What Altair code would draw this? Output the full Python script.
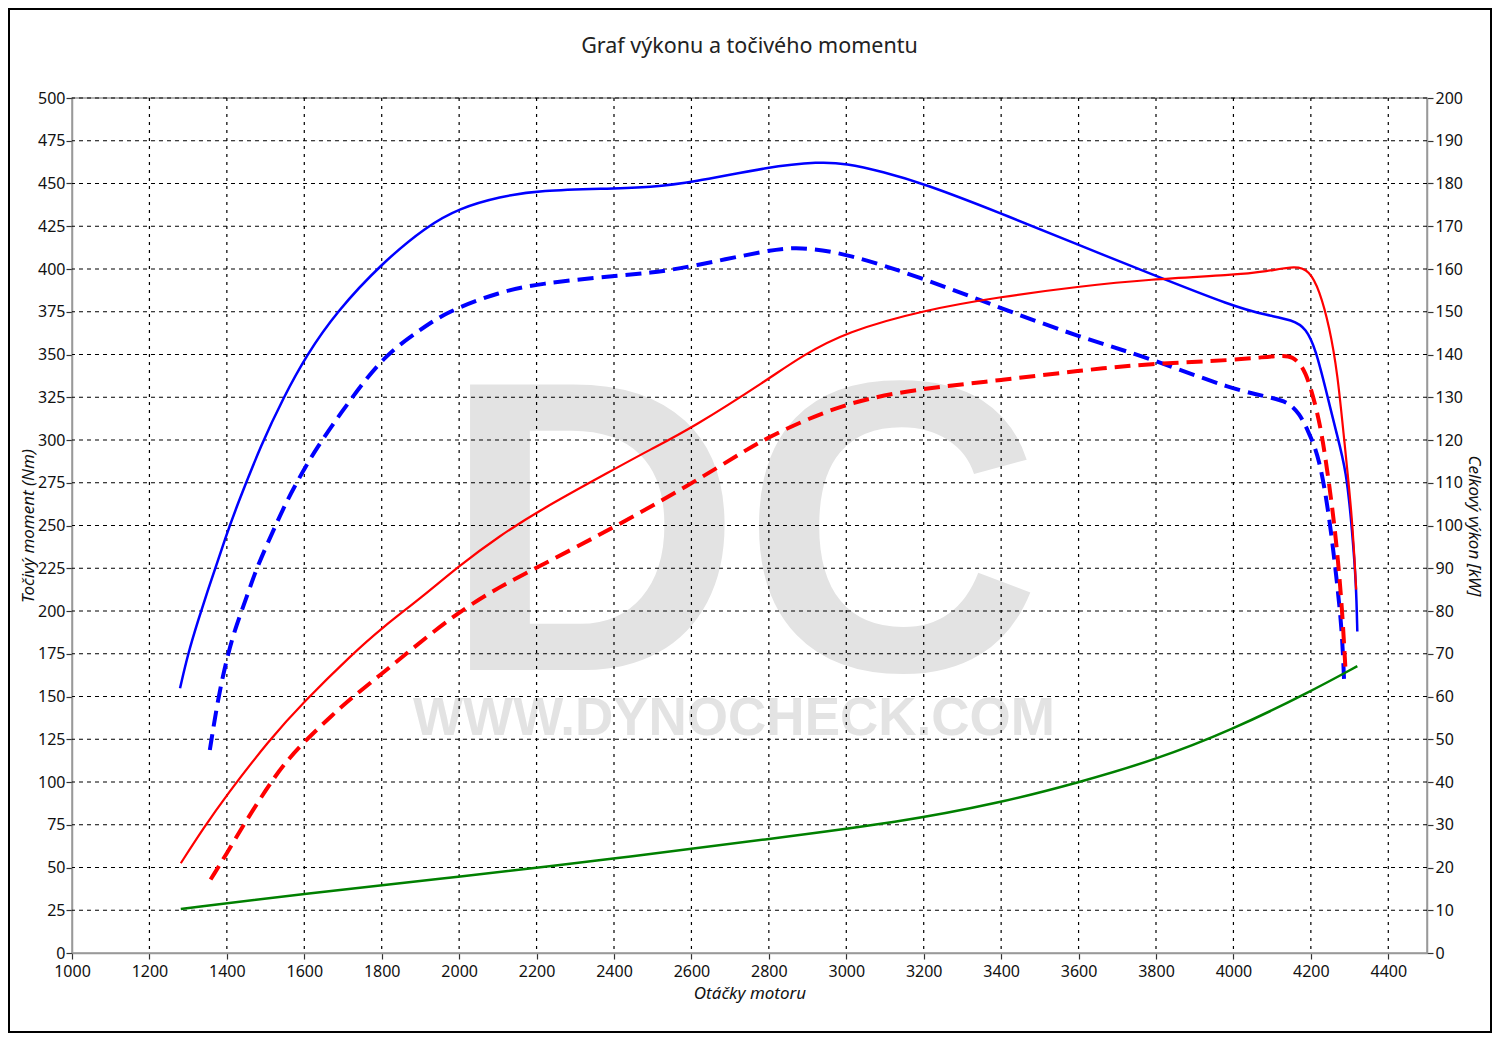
import altair as alt
import pandas as pd

# ---- data ----
rpm_tq_tuned = [1279, 1300, 1326, 1352, 1369, 1395, 1425, 1490, 1546, 1606, 1683, 1800, 1916, 2000, 2105,
                2208, 2397, 2492, 2600, 2800, 2931, 2998, 3094, 3200, 3400, 3600, 3783, 4000, 4086, 4153,
                4188, 4213, 4239, 4265, 4292, 4307, 4317, 4320]
tq_tuned = [154.8, 175.3, 194.7, 213, 224, 242, 261, 298, 324.7, 349.7, 374.9, 403.3, 425, 435.5, 442.3,
            446, 447, 447.8, 450.5, 459.8, 462.7, 461.8, 456.9, 450, 432.6, 414, 397.5, 378, 373, 370.2,
            365.3, 352.6, 329.2, 305, 282, 246, 216, 188]

rpm_tq_stock = [1356, 1378, 1403, 1425, 1451, 1472, 1498, 1524, 1550, 1580, 1627, 1722, 1808, 1900, 1967,
                2105, 2208, 2397, 2492, 2600, 2800, 2879, 3000, 3200, 3400, 3600, 3783, 4000, 4110, 4144,
                4170, 4192, 4222, 4248, 4268, 4281, 4286]
tq_stock = [118.7, 150, 175.3, 192, 208, 222, 236, 249, 262, 275, 294, 324.7, 349.7, 364.5, 374.9,
            386.7, 391.5, 396, 397.5, 401.4, 411.1, 413, 409.2, 394.5, 377, 360.4, 348, 329.2, 324.4, 321.5,
            315.6, 305.8, 290, 255, 216, 187, 158]

rpm_pw_tuned = [1281, 1338, 1398, 1511, 1597, 1725, 1800, 1906, 2000, 2105, 2208, 2397, 2492, 2600, 2800,
                2884, 3000, 3200, 3400, 3600, 3783, 4000, 4086, 4162, 4196, 4222, 4248, 4269, 4286, 4307,
                4317]
pw_tuned = [21.0, 29.0, 36.8, 50.0, 58.6, 70.0, 76.0, 83.4, 90.6, 97.6, 103.6, 113, 117.7, 122.7, 134.3,
            139.6, 145.3, 150.4, 153.5, 155.9, 157.6, 158.6, 159.4, 160.8, 159.6, 155.1, 146.5, 135.6, 120, 102,
            85]

rpm_pw_stock = [1358, 1398, 1442, 1503, 1546, 1597, 1675, 1725, 1800, 1855, 1993, 2105, 2208, 2397, 2595,
                2742, 2800, 3000, 3200, 3400, 3600, 3783, 4000, 4127, 4153, 4179, 4196, 4213, 4230, 4253,
                4268, 4281, 4289]
pw_stock = [17.2, 23.0, 29.8, 38.5, 44.0, 49.2, 55.9, 59.9, 65.3, 69.4, 79.5, 85.7, 90.5, 99.4, 109.5,
            117.7, 120.8, 129, 132.1, 134, 136.2, 137.9, 138.6, 139.9, 139.5, 137.2, 133.3, 127.8, 120.8, 106,
            94.3, 80.2, 67]

rpm_loss = [1281, 1589, 2000, 2397, 2802, 3138, 3396, 3597, 3796, 3997, 4196, 4320]
pw_loss = [10.3, 13.8, 17.8, 22, 26.7, 30.6, 35.1, 39.8, 45.1, 52.2, 61, 67.1]

x_ticks = list(range(1000, 4401, 200))
x_grid = list(range(1200, 4401, 200))
tq_ticks = list(range(0, 501, 25))
pw_ticks = list(range(0, 201, 10))

title_text = "Graf výkonu a točivého momentu"
x_title = "Otáčky motoru"
left_title = "Točivý moment (Nm)"
right_title = "Celkový výkon [kW]"

W, H = 1355, 855
FONT = "Noto Sans"
CURVE = "basis"


def frame(rpm, vals):
    return pd.DataFrame({"rpm": rpm, "v": vals})


xs = alt.Scale(domain=[1000, 4500], nice=False, zero=False)
ys_left = alt.Scale(domain=[0, 500], nice=False)
ys_right = alt.Scale(domain=[0, 200], nice=False)

x_axis = alt.Axis(values=x_ticks, title=x_title, grid=False, labelPadding=4, titlePadding=6,
                  labelFlush=False, format="d")
left_axis = alt.Axis(values=tq_ticks, title=left_title, grid=False, orient="left", labelPadding=1,
                     titlePadding=0, format="d")
right_axis = alt.Axis(values=pw_ticks, title=right_title, grid=False, orient="right", labelPadding=2,
                      titlePadding=2, format="d")

x_enc = alt.X("rpm:Q", scale=xs, axis=x_axis)


def y_left(field="v"):
    return alt.Y(f"{field}:Q", scale=ys_left, axis=left_axis)


def y_right():
    return alt.Y("v:Q", scale=ys_right, axis=right_axis)


one = pd.DataFrame({"a": [0]})

# watermark
wm_dc = alt.Chart(one).mark_text(text="DC", font="Liberation Sans", fontWeight="bold", fontSize=415,
                                 color="#e3e3e3", align="center", baseline="alphabetic").encode(
    x=alt.value(670), y=alt.value(572))
wm_url = alt.Chart(one).mark_text(text="WWW.DYNOCHECK.COM", font="Liberation Sans", fontWeight="bold",
                                  fontSize=53, color="#e3e3e3", align="center", baseline="alphabetic").encode(
    x=alt.value(662), y=alt.value(637))

# grid drawn from tick values
gx = alt.Chart(pd.DataFrame({"rpm": x_grid})).mark_rule(color="black", strokeWidth=1.2,
                                                          strokeDash=[3, 5]).encode(x=x_enc)
gy = alt.Chart(pd.DataFrame({"v": tq_ticks[1:]})).mark_rule(color="black", strokeWidth=1.2,
                                                            strokeDash=[4, 4]).encode(y=y_left())

blue_solid = alt.Chart(frame(rpm_tq_tuned, tq_tuned)).mark_line(
    color="#0000ff", strokeWidth=2.5, interpolate=CURVE).encode(x=x_enc, y=y_left())
blue_dash = alt.Chart(frame(rpm_tq_stock, tq_stock)).mark_line(
    color="#0000ff", strokeWidth=4, strokeDash=[16, 8], interpolate=CURVE).encode(x=x_enc, y=y_left())

title_mark = alt.Chart(one).mark_text(text=title_text, font=FONT, fontSize=21.5, color="#222",
                                      align="center", baseline="middle").encode(
    x=alt.value(W / 2), y=alt.value(-51))
border = alt.Chart(one).mark_rect(fillOpacity=0, stroke="black", strokeWidth=2).encode(
    x=alt.value(-63), x2=alt.value(W + 64), y=alt.value(-89), y2=alt.value(H + 79))

left = alt.layer(wm_dc, wm_url, gx, gy, blue_dash, blue_solid, title_mark, border)

green = alt.Chart(frame(rpm_loss, pw_loss)).mark_line(
    color="#008000", strokeWidth=2.5, interpolate=CURVE).encode(x=x_enc, y=y_right())
red_dash = alt.Chart(frame(rpm_pw_stock, pw_stock)).mark_line(
    color="#ff0000", strokeWidth=4, strokeDash=[16, 8], interpolate=CURVE).encode(x=x_enc, y=y_right())
red_solid = alt.Chart(frame(rpm_pw_tuned, pw_tuned)).mark_line(
    color="#ff0000", strokeWidth=2.2, interpolate=CURVE).encode(x=x_enc, y=y_right())

right = alt.layer(green, red_dash, red_solid)

chart = alt.layer(left, right).resolve_scale(y="independent").properties(
    width=W, height=H,
    padding={"left": 64, "top": 90, "right": 65, "bottom": 80},
    autosize=alt.AutoSizeParams(type="none"),
    background="white",
).configure_view(stroke="#999", strokeWidth=1.5).configure_axis(
    labelFont=FONT, labelFontSize=16, labelColor="#111",
    titleFont=FONT, titleFontSize=17, titleFontStyle="italic", titleFontWeight="normal", titleColor="#111",
    tickColor="#333", tickSize=6, tickWidth=1.2, domainColor="#999", domainWidth=1.5,
)

chart.save("out.html", embed_options={"renderer": "svg", "actions": False})
